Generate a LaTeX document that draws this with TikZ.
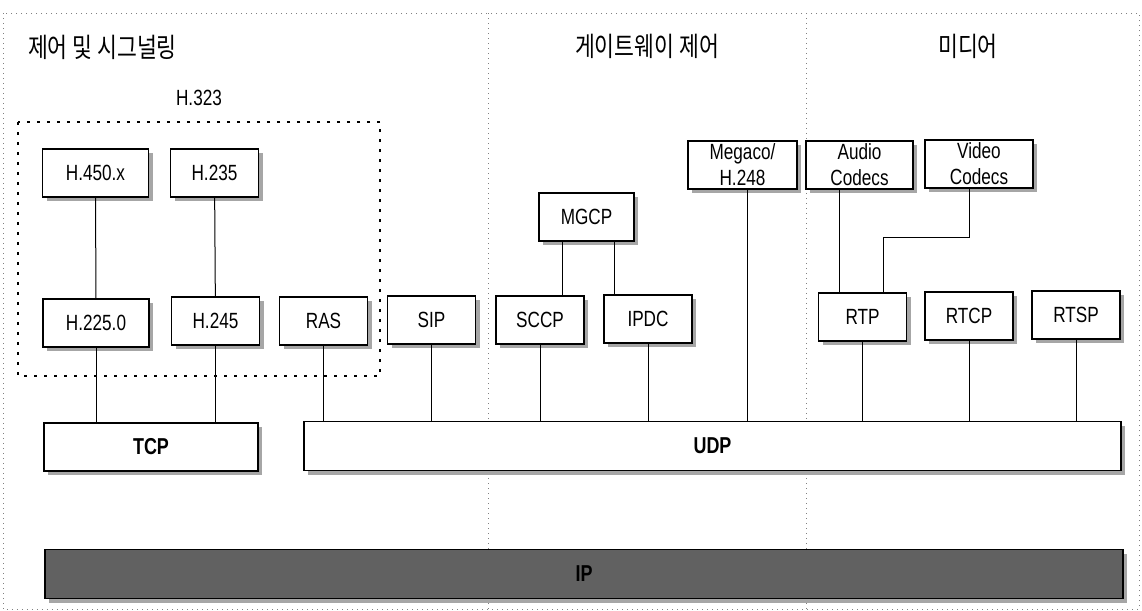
\documentclass[tikz,border=0pt]{standalone}
\usepackage{fontspec}
\setmainfont{Liberation Sans}[FakeStretch=0.78]
\newfontfamily\krfont{Noto Sans CJK KR}[FakeStretch=0.8]
\usepackage{tikz}
\usetikzlibrary{positioning, calc, shadows}
\tikzstyle{proto} = [rectangle, minimum width=44pt, minimum height=24pt, inner sep=1pt, text centered, align=center, draw=black, line width=0.6pt, fill=white, drop shadow={shadow xshift=2pt, shadow yshift=-2pt, fill=black!35, opacity=1}, font=\fontsize{11}{13}\selectfont]
\tikzstyle{layer} = [proto, font=\fontsize{11.5}{13}\selectfont\bfseries]
\tikzstyle{area} = [font=\krfont\fontsize{13.5}{15}\selectfont]
\tikzstyle{link} = [line width=0.5pt]
\tikzstyle{guide} = [dotted, gray, line width=0.5pt]

\begin{document}
\begin{tikzpicture}[x=0.5pt, y=-0.5pt]
\useasboundingbox (0,0) rectangle (1142,611);

% Frame and columns
\draw [guide] (3,13) rectangle (1139,609);
\draw [guide] (488,13) -- (488,609);
\draw [guide] (806,13) -- (806,609);

% Column titles
\node (tsig) [area, anchor=west] at (21,47) {제어 및 시그널링};
\node (tgw) [area] at (647,46) {게이트웨이 제어};
\node (tmedia) [area] at (968,46) {미디어};

% H.323 group
\node (h323) [font=\fontsize{11}{13}\selectfont] at (199,98) {H.323};
\draw [dash pattern=on 1.5pt off 3.5pt, line width=1pt] (18,122) rectangle (380,376);

% Signalling
\node (h450) [proto, minimum width=53pt] at (95.5,173) {H.450.x};
\node (h235) [proto] at (214.5,173) {H.235};
\node (h2250) [proto, minimum width=53pt] at (96,323) {H.225.0};
\node (h245) [proto] at (215.5,321) {H.245};
\node (ras) [proto] at (323.5,321) {RAS};
\node (sip) [proto] at (431.5,320) {SIP};

% Gateway control
\node (mgcp) [proto, minimum width=47.5pt] at (586.5,217) {MGCP};
\node (sccp) [proto] at (540,320) {SCCP};
\node (ipdc) [proto] at (648,319) {IPDC};
\node (megaco) [proto, minimum width=54.5pt] at (742.5,165) {Megaco/\\H.248};

% Media
\node (audio) [proto, minimum width=53.5pt] at (859.5,165) {Audio\\Codecs};
\node (video) [proto, minimum width=54pt] at (979,164) {Video\\Codecs};
\node (rtp) [proto] at (862.5,317) {RTP};
\node (rtcp) [proto] at (969,316) {RTCP};
\node (rtsp) [proto] at (1076,315) {RTSP};

% Transport
\node (tcp) [layer, minimum width=107pt] at (151,447) {TCP};
\node (udp) [layer, minimum width=408.5pt, minimum height=24.5pt] at (712.5,446) {UDP};
\node (ip) [layer, fill=black!62, minimum width=539pt, minimum height=24.5pt] at (584,574) {IP};

% Links
\draw [link] (h450) -- (h2250);
\draw [link] (h235) -- (h245);
\draw [link] (h2250) -- (h2250 |- tcp.north);
\draw [link] (h245) -- (h245 |- tcp.north);
\draw [link] (ras) -- (ras |- udp.north);
\draw [link] (sip) -- (sip |- udp.north);
\draw [link] (sccp) -- (sccp |- udp.north);
\draw [link] (ipdc) -- (ipdc |- udp.north);

\coordinate (mgcpl) at ([xshift=-12.25pt]mgcp.south);
\coordinate (mgcpr) at ([xshift=13.75pt]mgcp.south);
\draw [link] (mgcpl) -- (mgcpl |- sccp.north);
\draw [link] (mgcpr) -- (mgcpr |- ipdc.north);

\coordinate (megacob) at ([xshift=2.25pt]megaco.south);
\draw [link] (megacob) -- (megacob |- udp.north);

\coordinate (audiob) at ([xshift=-10.25pt]audio.south);
\draw [link] (audiob) -- (audiob |- rtp.north);
\draw [link] ([xshift=-5pt]video.south) -- ++(0,49) -| ([xshift=10.25pt]rtp.north);
\draw [link] (rtp) -- (rtp |- udp.north);
\draw [link] (rtcp) -- (rtcp |- udp.north);
\draw [link] (rtsp) -- (rtsp |- udp.north);

\end{tikzpicture}
\end{document}
